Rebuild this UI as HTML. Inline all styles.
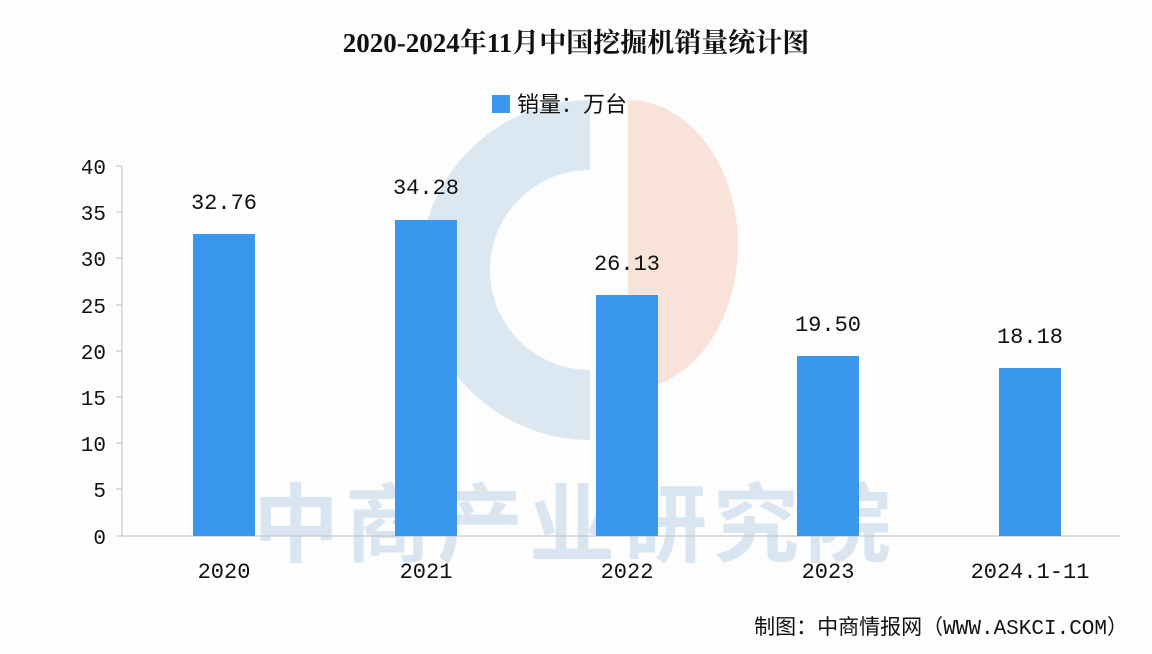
<!DOCTYPE html>
<html><head><meta charset="utf-8"><style>
html,body{margin:0;padding:0;background:#fff;}
svg{display:block;}
text{font-family:"Liberation Mono","Noto Sans CJK SC",monospace;fill:#111;}
.cj{font-family:"Liberation Sans","Noto Sans CJK SC",sans-serif;}
.sf{font-family:"Liberation Serif","Noto Serif CJK SC",serif;}
</style></head><body>
<svg width="1152" height="654" viewBox="0 0 1152 654" xmlns="http://www.w3.org/2000/svg">
<rect width="1152" height="654" fill="#fdfdfd"/>
<path d="M590 100 A170 170 0 1 0 590 440 L590 370 A100 100 0 1 1 590 170 Z" fill="#dbe7f1"/>
<path d="M628 100 A110 145 0 0 1 628 390 Z" fill="#f8e0d4" opacity="0.9"/>
<text x="575" y="555" text-anchor="middle" class="cj" font-size="86" font-weight="bold" style="fill:#d9e6f2" letter-spacing="6">中商产业研究院</text>
<text x="576" y="52" text-anchor="middle" class="sf" font-size="27" font-weight="bold">2020-2024年11月中国挖掘机销量统计图</text>
<rect x="492" y="95" width="18" height="18" fill="#3a97ee"/>
<text x="517" y="112" class="cj" font-size="22">销量：万台</text>
<g stroke="#c8c8c8" stroke-width="1.2">
<line x1="122" y1="166" x2="122" y2="536"/>
<line x1="122" y1="536" x2="1120" y2="536"/>
<line x1="116" y1="166" x2="122" y2="166"/><line x1="116" y1="212" x2="122" y2="212"/>
<line x1="116" y1="258" x2="122" y2="258"/><line x1="116" y1="305" x2="122" y2="305"/>
<line x1="116" y1="351" x2="122" y2="351"/><line x1="116" y1="397" x2="122" y2="397"/>
<line x1="116" y1="443" x2="122" y2="443"/><line x1="116" y1="489" x2="122" y2="489"/>
<line x1="116" y1="536" x2="122" y2="536"/>
</g>
<g font-size="21" text-anchor="end">
<text x="106" y="174">40</text><text x="106" y="220">35</text><text x="106" y="266">30</text>
<text x="106" y="313">25</text><text x="106" y="359">20</text><text x="106" y="405">15</text>
<text x="106" y="451">10</text><text x="106" y="497">5</text><text x="106" y="544">0</text>
</g>
<g fill="#3a97ee">
<rect x="193" y="234" width="62" height="302"/>
<rect x="395" y="220" width="62" height="316"/>
<rect x="596" y="295" width="62" height="241"/>
<rect x="797" y="356" width="62" height="180"/>
<rect x="999" y="368" width="62" height="168"/>
</g>
<g font-size="22" text-anchor="middle">
<text x="224" y="209">32.76</text><text x="426" y="194">34.28</text><text x="627" y="270">26.13</text>
<text x="828" y="331">19.50</text><text x="1030" y="343">18.18</text>
<text x="224" y="578">2020</text><text x="426" y="578">2021</text><text x="627" y="578">2022</text>
<text x="828" y="578">2023</text><text x="1030" y="578">2024.1-11</text>
</g>
<text x="1128" y="634" text-anchor="end" font-size="21">制图：中商情报网（WWW.ASKCI.COM）</text>
</svg>
</body></html>
